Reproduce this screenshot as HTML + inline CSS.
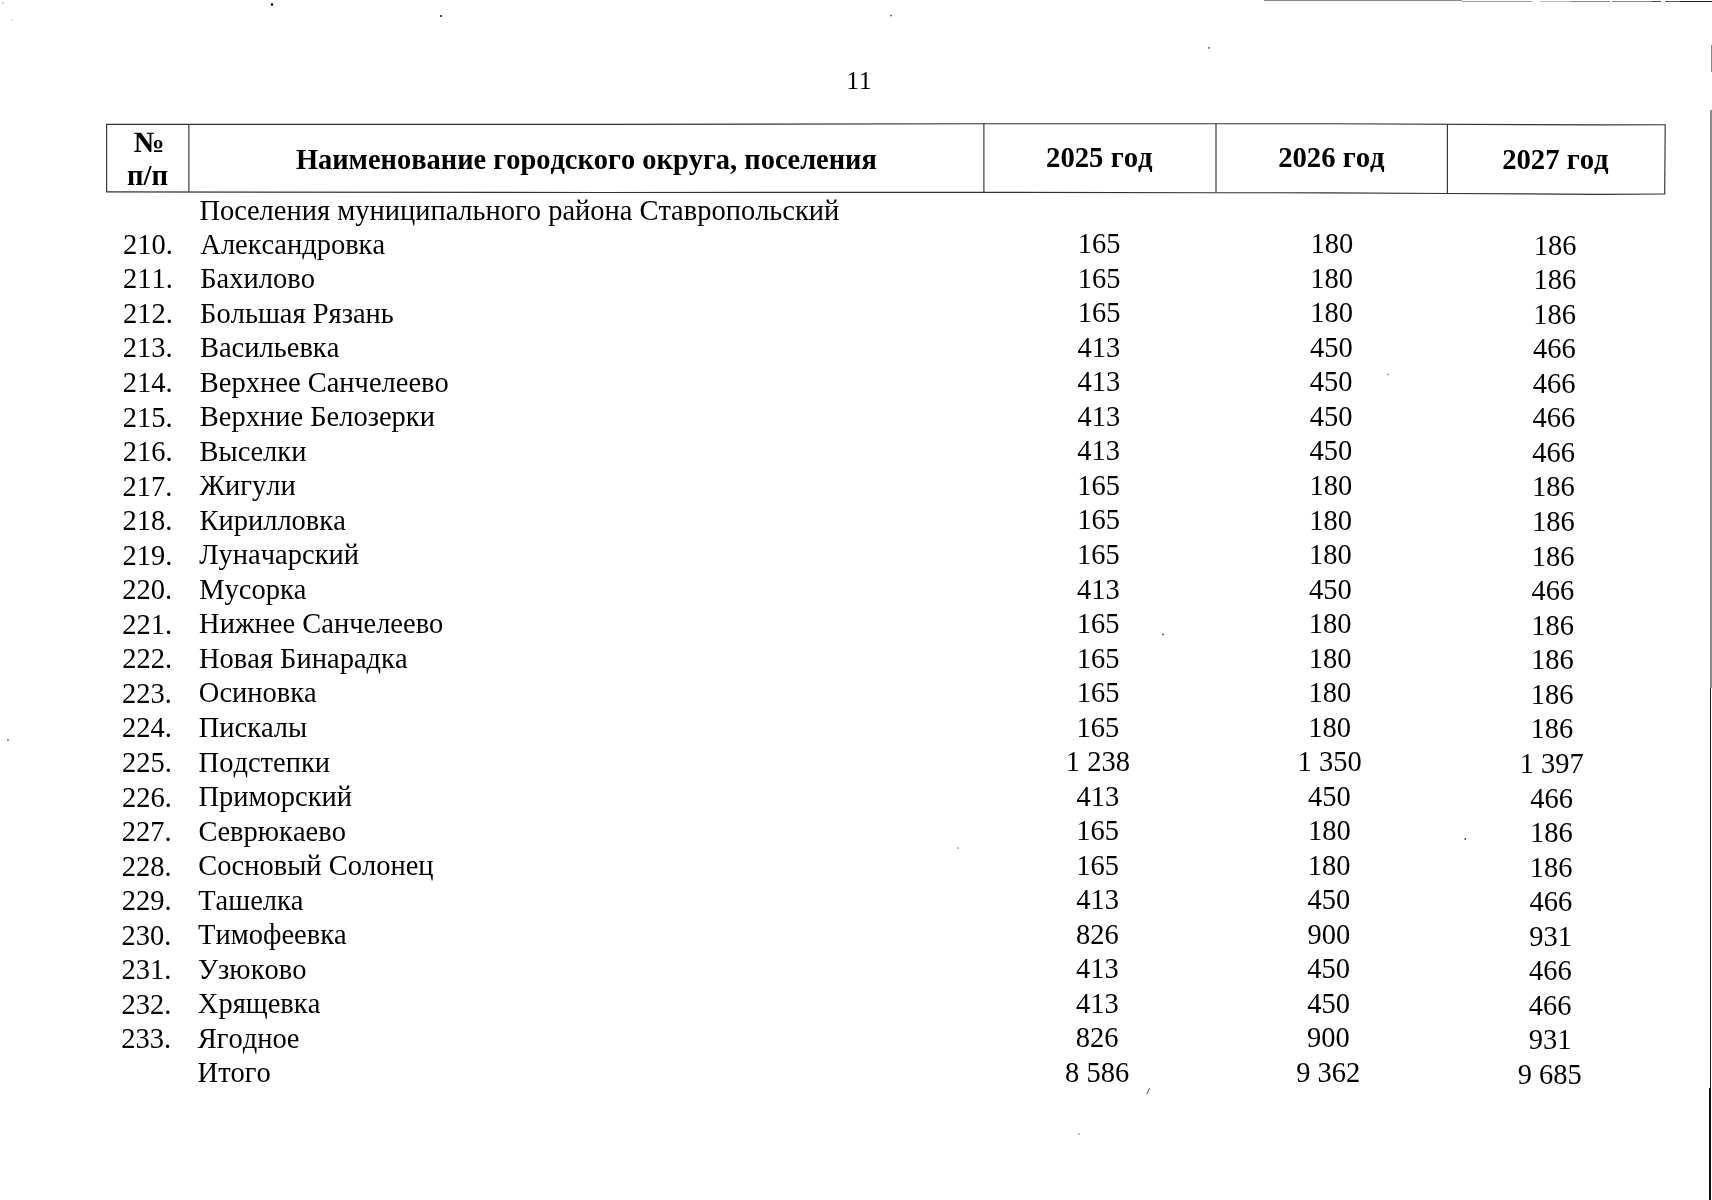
<!DOCTYPE html>
<html lang="ru"><head><meta charset="utf-8"><title>11</title>
<style>
html,body{margin:0;padding:0;background:#fff;}
*{font-kerning:none;font-feature-settings:"kern" 0;}
body{width:1712px;height:1200px;position:relative;overflow:hidden;filter:grayscale(1);font-family:"Liberation Serif","Times New Roman",serif;color:#000;}
.a{position:absolute;white-space:nowrap;height:34.55px;line-height:34.55px;font-size:28.5px;transform:scaleY(1.05);transform-origin:0 26.89px;}
.c{text-align:center;width:200px;}
.ln{position:absolute;background:#333;}
.h{position:absolute;font-weight:bold;font-size:28.7px;white-space:nowrap;line-height:40px;height:40px;text-align:center;transform:scaleY(1.03);transform-origin:0 29.69px;}
.pn{position:absolute;font-size:25px;line-height:30px;width:100px;text-align:center;}
</style></head><body>

<div class="pn" style="left:808.90px;top:65.56px">11</div>
<svg width="1712" height="1200" style="position:absolute;left:0;top:0">
<polyline fill="none" stroke="#333" stroke-width="1.15" points="106.1,124.4 600,124.4 984,123.7 1330,123.7 1600,124.9 1665.7,124.7"/>
<polyline fill="none" stroke="#333" stroke-width="1.15" points="106.1,191.9 600,192.5 984,192.3 1216,192.7 1330,192.9 1447,193.5 1600,194.3 1665.2,194.0"/>
<polyline fill="none" stroke="#333" stroke-width="1.15" points="106.6,124.4 106.6,191.9"/>
<polyline fill="none" stroke="#333" stroke-width="1.15" points="188.9,124.2 188.9,192.3"/>
<polyline fill="none" stroke="#333" stroke-width="1.15" points="983.9,123.7 983.9,192.3"/>
<polyline fill="none" stroke="#333" stroke-width="1.15" points="1216.0,123.7 1216.0,192.7"/>
<polyline fill="none" stroke="#333" stroke-width="1.15" points="1447.4,124.2 1447.4,193.5"/>
<polyline fill="none" stroke="#333" stroke-width="1.15" points="1665.2,124.7 1664.7,194.0"/>
<rect x="270.9" y="3.4" width="2.2" height="2.2" fill="#000"/>
<rect x="440.1" y="15.1" width="1.8" height="1.8" fill="#222"/>
<rect x="890.2" y="14.8" width="1.5" height="1.5" fill="#444"/>
<rect x="1208.2" y="47.2" width="1.5" height="1.5" fill="#444"/>
<rect x="1162.2" y="633.7" width="1.6" height="1.6" fill="#333"/>
<rect x="1464.5" y="838.2" width="1.6" height="1.6" fill="#333"/>
<rect x="957.4" y="847.4" width="1.3" height="1.3" fill="#666"/>
<rect x="1078.3" y="1133.3" width="1.3" height="1.3" fill="#666"/>
<rect x="7.2" y="739.2" width="1.5" height="1.5" fill="#444"/>
<rect x="1387.3" y="373.8" width="1.4" height="1.4" fill="#777"/>
<rect x="2.4" y="2.4" width="1.2" height="1.2" fill="#888"/>
<rect x="11.5" y="19.5" width="1" height="1" fill="#999"/>
<line x1="1147" y1="1094" x2="1149.5" y2="1088" stroke="#555" stroke-width="1"/>
</svg>
<div class="h" style="left:98.50px;width:100px;top:121.91px;transform:scale(1.08,1.03);transform-origin:50px 29.69px">№</div>
<div class="h" style="left:97.50px;width:100px;top:155.21px">п/п</div>
<div class="h" style="font-size:28.45px;left:186.40px;width:800px;top:139.51px">Наименование городского округа, поселения</div>
<div class="h" style="left:699.30px;width:800px;top:137.11px">2025 год</div>
<div class="h" style="left:931.40px;width:800px;top:136.81px">2026 год</div>
<div class="h" style="left:1155.40px;width:800px;top:138.61px">2027 год</div>
<div class="a" style="left:199.41px;top:193.83px">Поселения муниципального района Ставропольский</div>
<div class="a" style="left:123.10px;top:227.86px">210.</div>
<div class="a" style="left:200.30px;top:227.66px">Александровка</div>
<div class="a c" style="left:999.20px;top:227.36px">165</div>
<div class="a c" style="left:1231.80px;top:227.36px">180</div>
<div class="a c" style="left:1455.00px;top:228.56px">186</div>
<div class="a" style="left:123.02px;top:262.40px">211.</div>
<div class="a" style="left:200.19px;top:262.18px">Бахилово</div>
<div class="a c" style="left:999.11px;top:261.87px">165</div>
<div class="a c" style="left:1231.65px;top:261.88px">180</div>
<div class="a c" style="left:1454.78px;top:263.12px">186</div>
<div class="a" style="left:122.95px;top:296.94px">212.</div>
<div class="a" style="left:200.07px;top:296.70px">Большая Рязань</div>
<div class="a c" style="left:999.03px;top:296.39px">165</div>
<div class="a c" style="left:1231.50px;top:296.40px">180</div>
<div class="a c" style="left:1454.56px;top:297.67px">186</div>
<div class="a" style="left:122.87px;top:331.48px">213.</div>
<div class="a" style="left:199.96px;top:331.23px">Васильевка</div>
<div class="a c" style="left:998.94px;top:330.90px">413</div>
<div class="a c" style="left:1231.36px;top:330.91px">450</div>
<div class="a c" style="left:1454.35px;top:332.23px">466</div>
<div class="a" style="left:122.80px;top:366.02px">214.</div>
<div class="a" style="left:199.85px;top:365.75px">Верхнее Санчелеево</div>
<div class="a c" style="left:998.85px;top:365.42px">413</div>
<div class="a c" style="left:1231.21px;top:365.43px">450</div>
<div class="a c" style="left:1454.13px;top:366.79px">466</div>
<div class="a" style="left:122.72px;top:400.56px">215.</div>
<div class="a" style="left:199.73px;top:400.28px">Верхние Белозерки</div>
<div class="a c" style="left:998.76px;top:399.93px">413</div>
<div class="a c" style="left:1231.06px;top:399.95px">450</div>
<div class="a c" style="left:1453.91px;top:401.35px">466</div>
<div class="a" style="left:122.64px;top:435.10px">216.</div>
<div class="a" style="left:199.62px;top:434.80px">Выселки</div>
<div class="a c" style="left:998.68px;top:434.45px">413</div>
<div class="a c" style="left:1230.91px;top:434.47px">450</div>
<div class="a c" style="left:1453.69px;top:435.91px">466</div>
<div class="a" style="left:122.57px;top:469.65px">217.</div>
<div class="a" style="left:199.51px;top:469.32px">Жигули</div>
<div class="a c" style="left:998.59px;top:468.96px">165</div>
<div class="a c" style="left:1230.76px;top:468.99px">180</div>
<div class="a c" style="left:1453.48px;top:470.47px">186</div>
<div class="a" style="left:122.49px;top:504.19px">218.</div>
<div class="a" style="left:199.40px;top:503.85px">Кирилловка</div>
<div class="a c" style="left:998.50px;top:503.48px">165</div>
<div class="a c" style="left:1230.62px;top:503.51px">180</div>
<div class="a c" style="left:1453.26px;top:505.03px">186</div>
<div class="a" style="left:122.41px;top:538.73px">219.</div>
<div class="a" style="left:199.28px;top:538.37px">Луначарский</div>
<div class="a c" style="left:998.42px;top:537.99px">165</div>
<div class="a c" style="left:1230.47px;top:538.03px">180</div>
<div class="a c" style="left:1453.04px;top:539.58px">186</div>
<div class="a" style="left:122.34px;top:573.27px">220.</div>
<div class="a" style="left:199.17px;top:572.90px">Мусорка</div>
<div class="a c" style="left:998.33px;top:572.51px">413</div>
<div class="a c" style="left:1230.32px;top:572.55px">450</div>
<div class="a c" style="left:1452.83px;top:574.14px">466</div>
<div class="a" style="left:122.26px;top:607.81px">221.</div>
<div class="a" style="left:199.06px;top:607.42px">Нижнее Санчелеево</div>
<div class="a c" style="left:998.24px;top:607.02px">165</div>
<div class="a c" style="left:1230.17px;top:607.07px">180</div>
<div class="a c" style="left:1452.61px;top:608.70px">186</div>
<div class="a" style="left:122.19px;top:642.35px">222.</div>
<div class="a" style="left:198.94px;top:641.94px">Новая Бинарадка</div>
<div class="a c" style="left:998.16px;top:641.54px">165</div>
<div class="a c" style="left:1230.03px;top:641.59px">180</div>
<div class="a c" style="left:1452.39px;top:643.26px">186</div>
<div class="a" style="left:122.11px;top:676.89px">223.</div>
<div class="a" style="left:198.83px;top:676.47px">Осиновка</div>
<div class="a c" style="left:998.07px;top:676.05px">165</div>
<div class="a c" style="left:1229.88px;top:676.11px">180</div>
<div class="a c" style="left:1452.17px;top:677.82px">186</div>
<div class="a" style="left:122.03px;top:711.43px">224.</div>
<div class="a" style="left:198.72px;top:710.99px">Пискалы</div>
<div class="a c" style="left:997.98px;top:710.57px">165</div>
<div class="a c" style="left:1229.73px;top:710.63px">180</div>
<div class="a c" style="left:1451.96px;top:712.38px">186</div>
<div class="a" style="left:121.96px;top:745.98px">225.</div>
<div class="a" style="left:198.60px;top:745.51px">Подстепки</div>
<div class="a c" style="left:997.90px;top:745.08px">1 238</div>
<div class="a c" style="left:1229.58px;top:745.15px">1 350</div>
<div class="a c" style="left:1451.74px;top:746.94px">1 397</div>
<div class="a" style="left:121.88px;top:780.52px">226.</div>
<div class="a" style="left:198.49px;top:780.04px">Приморский</div>
<div class="a c" style="left:997.81px;top:779.60px">413</div>
<div class="a c" style="left:1229.43px;top:779.67px">450</div>
<div class="a c" style="left:1451.52px;top:781.50px">466</div>
<div class="a" style="left:121.81px;top:815.06px">227.</div>
<div class="a" style="left:198.38px;top:814.56px">Севрюкаево</div>
<div class="a c" style="left:997.72px;top:814.11px">165</div>
<div class="a c" style="left:1229.29px;top:814.19px">180</div>
<div class="a c" style="left:1451.30px;top:816.05px">186</div>
<div class="a" style="left:121.73px;top:849.60px">228.</div>
<div class="a" style="left:198.27px;top:849.09px">Сосновый Солонец</div>
<div class="a c" style="left:997.63px;top:848.63px">165</div>
<div class="a c" style="left:1229.14px;top:848.71px">180</div>
<div class="a c" style="left:1451.09px;top:850.61px">186</div>
<div class="a" style="left:121.65px;top:884.14px">229.</div>
<div class="a" style="left:198.15px;top:883.61px">Ташелка</div>
<div class="a c" style="left:997.55px;top:883.15px">413</div>
<div class="a c" style="left:1228.99px;top:883.23px">450</div>
<div class="a c" style="left:1450.87px;top:885.17px">466</div>
<div class="a" style="left:121.58px;top:918.68px">230.</div>
<div class="a" style="left:198.04px;top:918.13px">Тимофеевка</div>
<div class="a c" style="left:997.46px;top:917.66px">826</div>
<div class="a c" style="left:1228.84px;top:917.75px">900</div>
<div class="a c" style="left:1450.65px;top:919.73px">931</div>
<div class="a" style="left:121.50px;top:953.22px">231.</div>
<div class="a" style="left:197.93px;top:952.66px">Узюково</div>
<div class="a c" style="left:997.37px;top:952.18px">413</div>
<div class="a c" style="left:1228.70px;top:952.27px">450</div>
<div class="a c" style="left:1450.44px;top:954.29px">466</div>
<div class="a" style="left:121.43px;top:987.76px">232.</div>
<div class="a" style="left:197.81px;top:987.18px">Хрящевка</div>
<div class="a c" style="left:997.29px;top:986.69px">413</div>
<div class="a c" style="left:1228.55px;top:986.79px">450</div>
<div class="a c" style="left:1450.22px;top:988.85px">466</div>
<div class="a" style="left:121.35px;top:1022.31px">233.</div>
<div class="a" style="left:197.70px;top:1021.71px">Ягодное</div>
<div class="a c" style="left:997.20px;top:1021.21px">826</div>
<div class="a c" style="left:1228.40px;top:1021.31px">900</div>
<div class="a c" style="left:1450.00px;top:1023.41px">931</div>
<div class="a" style="left:197.59px;top:1056.23px">Итого</div>
<div class="a c" style="left:997.11px;top:1055.72px">8 586</div>
<div class="a c" style="left:1228.25px;top:1055.83px">9 362</div>
<div class="a c" style="left:1449.78px;top:1057.96px">9 685</div>
<div class="ln" style="left:1264px;top:0px;width:198px;height:1px;background:#8a8a8a"></div>
<div class="ln" style="left:1462px;top:1px;width:70px;height:1px;background:#999"></div>
<div class="ln" style="left:1540px;top:1px;width:30px;height:1px;background:#bbb"></div>
<div class="ln" style="left:1570px;top:1px;width:40px;height:1px;background:#888"></div>
<div class="ln" style="left:1612px;top:1px;width:40px;height:1px;background:#888"></div>
<div class="ln" style="left:1652px;top:1px;width:9px;height:1px;background:#444"></div>
<div class="ln" style="left:1665px;top:1px;width:48px;height:1px;background:#555"></div>
<div class="ln" style="left:1680px;top:1px;width:32px;height:1px;background:#222"></div>
<div class="ln" style="left:1711px;top:45px;width:1px;height:27px;background:#888"></div>
<div class="ln" style="left:1710px;top:110px;width:1.5px;height:578px;background:#8c8c8c"></div>
<div class="ln" style="left:1710px;top:688px;width:1.3px;height:400px;background:#1a1a1a"></div>
<div class="ln" style="left:1709.3px;top:1088px;width:2px;height:112px;background:#111"></div>
</body></html>
